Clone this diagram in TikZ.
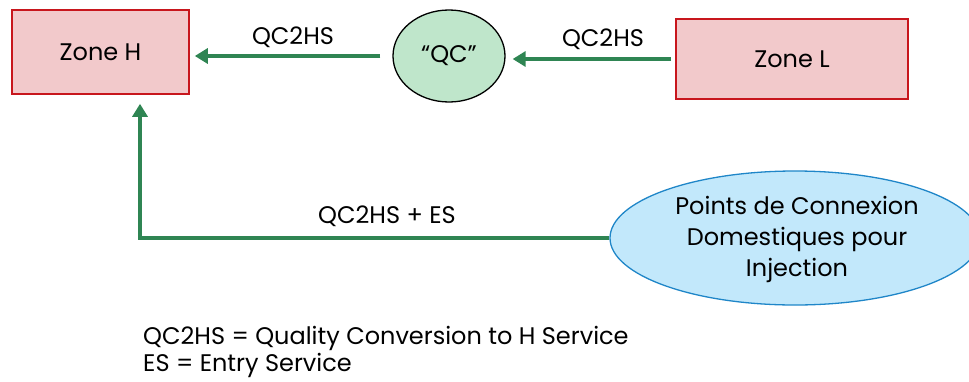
\documentclass[tikz,border=0pt]{standalone}
\usepackage{fontspec}
\setmainfont{Poppins}
\usetikzlibrary{arrows.meta,shapes.geometric}
\definecolor{zonefill}{HTML}{F2C9CB}
\definecolor{zonedraw}{HTML}{C8161D}
\definecolor{qcfill}{HTML}{BFE6CB}
\definecolor{pcfill}{HTML}{C2E8FB}
\definecolor{pcdraw}{HTML}{1F86C8}
\definecolor{arrgreen}{HTML}{2F8553}
\tikzset{
  zonebox/.style={rectangle, draw=zonedraw, fill=zonefill, line width=1.6pt, inner sep=0pt},
  qcnode/.style={ellipse, draw=black, fill=qcfill, line width=1.3pt, inner sep=0pt},
  pcnode/.style={ellipse, draw=pcdraw, fill=pcfill, line width=1.3pt, inner sep=0pt, align=center},
  arr/.style={draw=arrgreen, line width=3.2pt, -{Triangle[length=13pt,width=15pt]}},
  lbl/.style={inner sep=0pt},
  txt/.style={font=\fontsize{24}{31}\selectfont},
  legtxt/.style={font=\fontsize{24}{27}\selectfont}
}
\begin{document}
\begin{tikzpicture}[x=1pt,y=-1pt]
\useasboundingbox (0,0) rectangle (969,381);
\node[zonebox, txt, minimum width=177pt, minimum height=84pt] (zh) at (100.5,52) {Zone H};
\node[zonebox, txt, minimum width=232pt, minimum height=80pt] (zl) at (792,59) {Zone L};
\node[qcnode, txt, minimum width=112pt, minimum height=92pt] (qc) at (449,56) {``QC''};
\node[pcnode, txt, minimum width=370pt, minimum height=134pt] (pc) at (795,238) {};
\node[lbl, txt, align=center] (pct) at (797,239) {Points de Connexion\\Domestiques pour\\Injection};
\draw[arr, shorten <=12pt, shorten >=5pt] (qc.west) -- (zh.east |- qc.west);
\draw[arr, shorten <=4pt, shorten >=7pt] (zl.west) -- (qc.east |- zl.west);
\draw[arr, shorten >=9pt] (pc.west) -| ([xshift=39.5pt]zh.south);
\node[lbl, txt] (l1) at (293,37) {QC2HS};
\node[lbl, txt] (l2) at (603,39) {QC2HS};
\node[lbl, txt] (l3) at (387,216) {QC2HS + ES};
\node[lbl, legtxt, anchor=west, align=left] (leg) at (143,352) {QC2HS = Quality Conversion to H Service\\ES = Entry Service};
\end{tikzpicture}
\end{document}
